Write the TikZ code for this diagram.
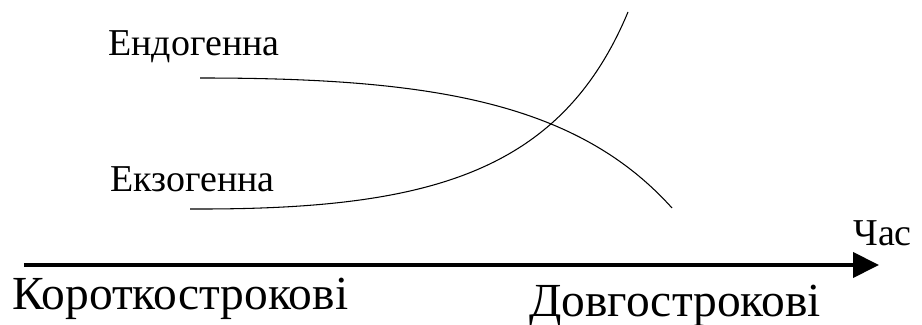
\documentclass[tikz,border=0pt]{standalone}
\usepackage{fontspec}
\setmainfont{Liberation Serif}
\usepackage{tikz}
\usetikzlibrary{arrows.meta}

\begin{document}
\begin{tikzpicture}[every node/.style={inner sep=0pt, anchor=base west},
        small/.style={font=\fontsize{21.6}{26}\selectfont},
        large/.style={font=\fontsize{27}{32}\selectfont},
        curve/.style={line width=0.6pt}]
        \useasboundingbox (0,0) rectangle (18.44,6.5);
        \node[small] (endo) at (2.16,5.38) {Ендогенна};
        \node[small] (exo) at (2.2,2.66) {Екзогенна};
        \node[small] (time) at (17.06,1.58) {Час};
        \node[large] (short) at (0.24,0.30) {Короткострокові};
        \node[large] (long) at (10.58,0.16) {Довгострокові};
        \coordinate (t0) at (0.48,1.2);
        \coordinate (t1) at (17.58,1.2);
        \draw[line width=2.3pt, -{Triangle[length=5.2mm,width=5mm]}] (t0) -- (t1);
        \draw[curve] (4.0,4.94) .. controls (8.5,4.94) and (11.5,4.5) .. (13.44,2.34);
        \draw[curve] (3.8,2.32) .. controls (8.5,2.3) and (11.2,3.0) .. (12.56,6.26);
    \end{tikzpicture}
\end{document}
